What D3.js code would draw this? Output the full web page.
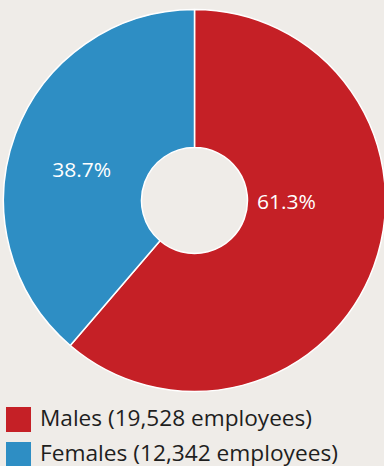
<!DOCTYPE html>
<html><head><meta charset="utf-8">
<script src="https://cdn.jsdelivr.net/npm/d3@7"></script>
<style>
html,body{margin:0;padding:0;background:#efece8;}
svg{display:block;}
text{font-family:"Open Sans",Lato,sans-serif;}
</style></head>
<body><svg id="chart" width="384" height="466"></svg>
<script>
const categories = ["Males", "Females"];
const counts = [19528, 12342];
const percentLabels = ["61.3%", "38.7%"];
const legendLabels = ["Males (19,528 employees)", "Females (12,342 employees)"];
const colors = ["#c52026", "#2e8ec4"];

const W = 384, H = 466;
const cx = 194.5, cy = 200.5, rOuter = 191, rInner = 53;
const svg = d3.select("#chart");
svg.append("rect").attr("width", W).attr("height", H).attr("fill", "#efece8");

const data = categories.map((c, i) => ({cat: c, value: counts[i], label: percentLabels[i], color: colors[i]}));
const pie = d3.pie().value(d => d.value).sort(null);
const arcs = pie(data);
const arc = d3.arc().innerRadius(rInner).outerRadius(rOuter);

const g = svg.append("g").attr("transform", `translate(${cx},${cy})`);
g.selectAll("path").data(arcs).join("path")
  .attr("d", arc)
  .attr("fill", d => d.data.color)
  .attr("stroke", "#ffffff")
  .attr("stroke-width", 1.5)
  .attr("stroke-linejoin", "round");

// label placement: angle within the slice, radius
const labelPlace = [{t: 0.41, r: 92}, {t: 0.465, r: 117}];
g.selectAll("text.pct").data(arcs).join("text")
  .attr("class", "pct")
  .attr("transform", (d, i) => {
    const a = d.startAngle + (d.endAngle - d.startAngle) * labelPlace[i].t;
    const x = Math.sin(a) * labelPlace[i].r, y = -Math.cos(a) * labelPlace[i].r;
    return `translate(${x},${y})`;
  })
  .attr("text-anchor", "middle")
  .attr("dominant-baseline", "central")
  .attr("fill", "#ffffff")
  .attr("font-size", 20)
  .attr("textLength", 59)
  .attr("lengthAdjust", "spacingAndGlyphs")
  .text(d => d.data.label);

const legendWidths = [272, 298];
const legend = svg.append("g").attr("transform", "translate(6,407)");
const li = legend.selectAll("g").data(data).join("g")
  .attr("transform", (d, i) => `translate(0,${i * 35})`);
li.append("rect").attr("width", 25).attr("height", 25).attr("fill", d => d.color);
li.append("text").attr("x", 34).attr("y", 19)
  .attr("fill", "#1e1e1e").attr("font-size", 21)
  .attr("textLength", (d, i) => legendWidths[i])
  .attr("lengthAdjust", "spacingAndGlyphs")
  .text((d, i) => legendLabels[i]);
</script></body></html>
